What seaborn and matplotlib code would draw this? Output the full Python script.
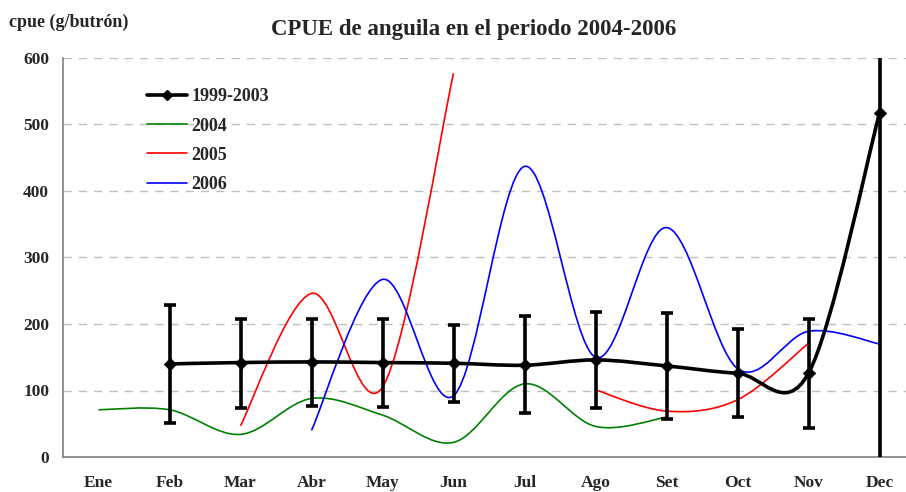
import numpy as np
import matplotlib
matplotlib.use("Agg")
import matplotlib.pyplot as plt
from matplotlib.path import Path
from matplotlib.patches import PathPatch
from matplotlib.lines import Line2D
import seaborn as sns

# data
months = ["Ene", "Feb", "Mar", "Abr", "May", "Jun", "Jul", "Ago", "Set", "Oct", "Nov", "Dec"]

ref_months = ["Feb", "Mar", "Abr", "May", "Jun", "Jul", "Ago", "Set", "Oct", "Nov", "Dec"]
ref_mean = [140, 142, 143, 142, 141, 138, 146, 137, 126, 126, 517]
ref_low = [51, 73, 77, 75, 82, 66, 73, 57, 60, 44, -20]
ref_high = [229, 207, 207, 207, 199, 212, 218, 216, 192, 207, 700]

g2004_months = ["Ene", "Feb", "Mar", "Abr", "May", "Jun", "Jul", "Ago", "Set"]
g2004 = [71, 71, 34, 88, 63, 22, 110, 46, 60]

r2005_a_months = ["Mar", "Abr", "May", "Jun"]
r2005_a = [47, 246, 105, 577]
r2005_b_months = ["Ago", "Set", "Oct", "Nov"]
r2005_b = [101, 69, 86, 171]

b2006_months = ["Abr", "May", "Jun", "Jul", "Ago", "Set", "Oct", "Nov", "Dec"]
b2006 = [40, 267, 92, 437, 150, 345, 133, 189, 170]


def smooth_path(labels, values):
    # Excel-style smoothed line: Catmull-Rom segments as cubic Bezier curves
    x = np.array([months.index(m) for m in labels], dtype=float)
    y = np.array(values, dtype=float)
    pts = np.column_stack([x, y])
    n = len(pts)
    verts = [pts[0]]
    codes = [Path.MOVETO]
    for i in range(n - 1):
        p0 = pts[i - 1] if i > 0 else pts[i]
        p1 = pts[i]
        p2 = pts[i + 1]
        p3 = pts[i + 2] if i + 2 < n else pts[i + 1]
        c1 = p1 + (p2 - p0) / 6
        c2 = p2 - (p3 - p1) / 6
        verts += [c1, c2, p2]
        codes += [Path.CURVE4] * 3
    return Path(verts, codes)


sns.set_style("white")
plt.rcParams['font.family'] = ['Liberation Serif', 'DejaVu Serif']
plt.rcParams['font.weight'] = 'bold'

fig = plt.figure(figsize=(9.06, 4.92), dpi=100)
ax = fig.add_axes([63 / 906, 1 - 457 / 492, 852 / 906, 399 / 492])

for labels, values, color, lw in [
    (g2004_months, g2004, "green", 1.2),
    (r2005_a_months, r2005_a, "red", 1.2),
    (r2005_b_months, r2005_b, "red", 1.2),
    (b2006_months, b2006, "blue", 1.2),
    (ref_months, ref_mean, "black", 2.6),
]:
    ax.add_patch(PathPatch(smooth_path(labels, values), facecolor="none",
                           edgecolor=color, lw=lw, capstyle="butt", zorder=3))

ref_x = [months.index(m) for m in ref_months]
yerr = [np.array(ref_mean) - np.array(ref_low), np.array(ref_high) - np.array(ref_mean)]
ax.errorbar(ref_x, ref_mean, yerr=yerr, fmt="none", ecolor="black",
            elinewidth=2.6, capsize=4.5, capthick=2.6, zorder=4)
sns.scatterplot(x=ref_x, y=ref_mean, marker="D", color="black", s=40,
                edgecolor="black", ax=ax, zorder=5, legend=False)

ax.set_xlim(-0.5, 11.5)
ax.set_ylim(0, 600)
ax.set_yticks(range(0, 601, 100))
ax.set_xticks(range(12))
ax.set_xticklabels(months)
ax.set_xticks(np.arange(0.5, 11.5, 1), minor=True)
ax.tick_params(axis="x", which="major", length=0, pad=13, labelsize=12.5)
ax.tick_params(axis="x", which="minor", length=5, width=1, color="#808080", direction="out")
ax.tick_params(axis="y", length=5, width=1, color="#808080", direction="out", labelsize=12.5, pad=5)
ax.grid(axis="y", color="#c0c0c0", linestyle=(0, (6, 5)), lw=1)
ax.set_axisbelow(True)
for s in ["top", "right"]:
    ax.spines[s].set_visible(False)
for s in ["left", "bottom"]:
    ax.spines[s].set_color("#808080")
    ax.spines[s].set_linewidth(1.2)

fig.text(474 / 906, 1 - 30 / 492, "CPUE de anguila en el periodo 2004-2006",
         ha="center", va="center", fontsize=16.5, fontweight="bold")
fig.text(9 / 906, 1 - 22 / 492, "cpue (g/butrón)", ha="left", va="center",
         fontsize=13, fontweight="bold")

handles = [
    Line2D([], [], color="black", lw=2.6, marker="D", markersize=5),
    Line2D([], [], color="green", lw=1.2),
    Line2D([], [], color="red", lw=1.2),
    Line2D([], [], color="blue", lw=1.2),
]
fig.legend(handles, ["1999-2003", "2004", "2005", "2006"], loc="upper left",
           bbox_to_anchor=(131 / 906, 1 - 72 / 492), frameon=False, fontsize=13,
           handlelength=2.2, labelspacing=0.68, handletextpad=0.25)

fig.savefig("out.png", dpi=100)
